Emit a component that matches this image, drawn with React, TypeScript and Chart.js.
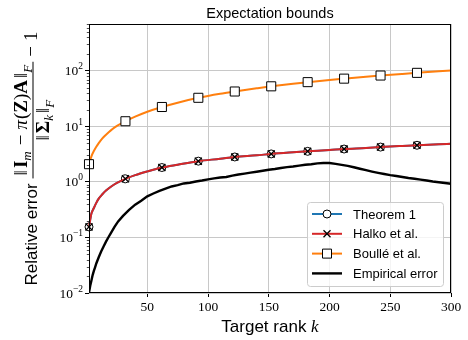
import React, { useEffect, useRef } from "react";
import { Chart, registerables } from "chart.js";

Chart.register(...registerables);

// ---------- data ----------
const kSmooth = [2, 4, 6, 8, 10, 13, 16, 20, 25, 32, 40, 50, 62, 75, 92, 110, 122, 140, 152, 170, 182, 200, 212, 230, 242, 260, 272, 290, 300];
const theorem1 = [0.155, 0.27, 0.34, 0.42, 0.5, 0.6, 0.7, 0.82, 0.96, 1.14, 1.33, 1.55, 1.82, 2.05, 2.37, 2.62, 2.82, 3.02, 3.2, 3.42, 3.56, 3.76, 3.92, 4.1, 4.25, 4.45, 4.58, 4.78, 4.88];
const halko = [0.155, 0.27, 0.34, 0.42, 0.5, 0.6, 0.7, 0.82, 0.96, 1.14, 1.33, 1.55, 1.82, 2.05, 2.37, 2.62, 2.82, 3.02, 3.2, 3.42, 3.56, 3.76, 3.92, 4.1, 4.25, 4.45, 4.58, 4.78, 4.88];
const boulle = [2.09, 2.9, 3.6, 4.3, 5.0, 6.1, 7.1, 8.5, 10.2, 12.4, 15.0, 18.4, 22.4, 26.8, 32.8, 38.8, 42.6, 48.6, 52.8, 58.8, 62.8, 68.8, 72.6, 78.6, 82.6, 88.4, 92.3, 98.2, 101.5];

const kEmp = [2, 3, 4, 5, 6, 7, 8, 10, 12, 14, 16, 18, 20, 23, 26, 30, 35, 40, 45, 50, 55, 60, 65, 70, 75, 80, 85, 90, 95, 100, 105, 110, 115, 120, 125, 130, 135, 140, 145, 150, 155, 160, 165, 170, 175, 180, 185, 190, 195, 200, 205, 210, 215, 220, 225, 230, 235, 240, 245, 250, 255, 260, 265, 270, 275, 280, 285, 290, 295, 300];
const empirical = [0.0102, 0.0135, 0.0168, 0.021, 0.025, 0.029, 0.034, 0.044, 0.056, 0.069, 0.084, 0.101, 0.12, 0.155, 0.195, 0.245, 0.315, 0.39, 0.46, 0.55, 0.62, 0.69, 0.76, 0.83, 0.875, 0.94, 0.97, 1.02, 1.06, 1.11, 1.16, 1.2, 1.23, 1.3, 1.36, 1.41, 1.47, 1.53, 1.59, 1.66, 1.71, 1.78, 1.85, 1.9, 1.97, 2.04, 2.09, 2.16, 2.2, 2.19, 2.12, 2.03, 1.95, 1.84, 1.73, 1.63, 1.54, 1.46, 1.39, 1.33, 1.28, 1.23, 1.18, 1.14, 1.1, 1.06, 1.02, 0.99, 0.96, 0.93];

const markerK = [2, 32, 62, 92, 122, 152, 182, 212, 242, 272];
const xTicks = [50, 100, 150, 200, 250, 300];
const yTicks = [0.01, 0.1, 1, 10, 100];
const yExp = ["\u22122", "\u22121", "0", "1", "2"];
const legendLabels = ["Theorem 1", "Halko et al.", "Boullé et al.", "Empirical error"];

const BLUE = "#1f77b4";
const RED = "#d62728";
const ORANGE = "#ff7f0e";
const BLACK = "#000000";
const GRID = "#c8c8c8";
const SERIF = '"Liberation Serif", "DejaVu Serif", serif';
const SANS = '"Liberation Sans", "DejaVu Sans", sans-serif';

type Seg = { t: string; f: string; dy?: number; pre?: number; post?: number };

function segWidth(ctx: CanvasRenderingContext2D, segs: Seg[]) {
  let w = 0;
  for (const s of segs) {
    ctx.font = s.f;
    w += (s.pre || 0) + ctx.measureText(s.t).width + (s.post || 0);
  }
  return w;
}
function drawSegs(ctx: CanvasRenderingContext2D, segs: Seg[], x: number, y: number) {
  for (const s of segs) {
    ctx.font = s.f;
    x += s.pre || 0;
    ctx.fillText(s.t, x, y + (s.dy || 0));
    x += ctx.measureText(s.t).width + (s.post || 0);
  }
  return x;
}

function drawMarker(ctx: CanvasRenderingContext2D, kind: string, x: number, y: number) {
  ctx.save();
  ctx.strokeStyle = "#000";
  ctx.fillStyle = "#fff";
  if (kind === "circle") {
    ctx.lineWidth = 1;
    ctx.beginPath();
    ctx.arc(x, y, 4, 0, Math.PI * 2);
    ctx.fill();
    ctx.stroke();
  } else if (kind === "x") {
    ctx.lineWidth = 1.3;
    ctx.beginPath();
    ctx.moveTo(x - 3.5, y - 3.5);
    ctx.lineTo(x + 3.5, y + 3.5);
    ctx.moveTo(x - 3.5, y + 3.5);
    ctx.lineTo(x + 3.5, y - 3.5);
    ctx.stroke();
  } else if (kind === "square") {
    ctx.lineWidth = 1;
    ctx.beginPath();
    ctx.rect(x - 4.5, y - 4.5, 9, 9);
    ctx.fill();
    ctx.stroke();
  }
  ctx.restore();
}

const decorPlugin = {
  id: "decor",
  afterDraw(chart: any) {
    const ctx: CanvasRenderingContext2D = chart.ctx;
    const { left, right, top, bottom } = chart.chartArea;
    const ys = chart.scales.y;
    ctx.save();

    // frame
    ctx.strokeStyle = "#000";
    ctx.lineWidth = 1;
    ctx.strokeRect(left + 0.5, top + 0.5, right - left - 1, bottom - top - 1);

    // y minor ticks
    ctx.lineWidth = 0.7;
    ctx.beginPath();
    for (let d = 0.01; d < 1000; d *= 10) {
      for (let m = 2; m <= 9; m++) {
        const v = m * d;
        if (v > ys.max) continue;
        const y = Math.round(ys.getPixelForValue(v)) + 0.5;
        ctx.moveTo(left - 2.2, y);
        ctx.lineTo(left, y);
      }
    }
    ctx.stroke();

    // y tick labels with superscript exponents
    ctx.fillStyle = "#000";
    ctx.textBaseline = "alphabetic";
    ctx.textAlign = "left";
    ys.ticks.forEach((t: any, i: number) => {
      const y = ys.getPixelForValue(t.value);
      const exp = yExp[i];
      ctx.font = `9.5px ${SERIF}`;
      const ew = ctx.measureText(exp).width;
      ctx.font = `13.5px ${SERIF}`;
      const bw = ctx.measureText("10").width;
      const xr = left - 6;
      ctx.fillText("10", xr - ew - bw, y + 4.5);
      ctx.font = `9.5px ${SERIF}`;
      ctx.fillText(exp, xr - ew, y - 1.5);
    });

    // title
    ctx.textAlign = "center";
    ctx.font = `14.5px ${SANS}`;
    ctx.fillText("Expectation bounds", (left + right) / 2, 18);

    // x title
    ctx.textAlign = "left";
    const xt: Seg[] = [
      { t: "Target rank ", f: `17px ${SANS}` },
      { t: "k", f: `italic 17px ${SERIF}` },
    ];
    const xtw = segWidth(ctx, xt);
    drawSegs(ctx, xt, (left + right) / 2 - xtw / 2, 332);

    // y title (rotated, with fraction)
    const F = 19;
    const FS = 13;
    const main: Seg[] = [{ t: "Relative error", f: `17px ${SANS}`, post: 5 }];
    const num: Seg[] = [
      { t: "\u2016", f: `${F}px ${SERIF}`, post: 2 },
      { t: "I", f: `bold ${F}px ${SERIF}` },
      { t: "m", f: `italic ${FS}px ${SERIF}`, dy: 4, post: 1 },
      { t: "\u2212", f: `${F}px ${SERIF}`, pre: 5, post: 5 },
      { t: "\u03c0", f: `italic ${F}px ${SERIF}`, post: 1 },
      { t: "(", f: `${F}px ${SERIF}` },
      { t: "Z", f: `bold ${F}px ${SERIF}` },
      { t: ")", f: `${F}px ${SERIF}` },
      { t: "A", f: `bold ${F}px ${SERIF}`, post: 2 },
      { t: "\u2016", f: `${F}px ${SERIF}` },
      { t: "F", f: `italic ${FS}px ${SERIF}`, dy: 5 },
    ];
    const den: Seg[] = [
      { t: "\u2016", f: `${F}px ${SERIF}`, post: 2 },
      { t: "\u03a3", f: `bold ${F}px ${SERIF}` },
      { t: "k", f: `italic ${FS}px ${SERIF}`, dy: 4, post: 2 },
      { t: "\u2016", f: `${F}px ${SERIF}` },
      { t: "F", f: `italic ${FS}px ${SERIF}`, dy: 5 },
    ];
    const tail: Seg[] = [
      { t: "\u2212", f: `${F}px ${SERIF}`, pre: 5, post: 5 },
      { t: "1", f: `${F}px ${SERIF}` },
    ];
    const wMain = segWidth(ctx, main);
    const wNum = segWidth(ctx, num);
    const wDen = segWidth(ctx, den);
    const wFrac = Math.max(wNum, wDen) + 6;
    const wTail = segWidth(ctx, tail);
    const total = wMain + wFrac + wTail;
    const BAR_X = 33;
    const cy = (top + bottom) / 2;
    ctx.translate(BAR_X, cy);
    ctx.rotate(-Math.PI / 2);
    let u = -total / 2;
    drawSegs(ctx, main, u, 4);
    u += wMain;
    drawSegs(ctx, num, u + (wFrac - wNum) / 2, -6);
    drawSegs(ctx, den, u + (wFrac - wDen) / 2, 16);
    ctx.fillRect(u, -0.5, wFrac, 1);
    u += wFrac;
    drawSegs(ctx, tail, u, 4);
    ctx.setTransform(1, 0, 0, 1, 0, 0);

    // legend
    const lx = right - 144;
    const ly = bottom - 91;
    const lw = 136;
    const lh = 84;
    ctx.beginPath();
    ctx.roundRect(lx + 0.5, ly + 0.5, lw, lh, 3);
    ctx.fillStyle = "rgba(255,255,255,0.8)";
    ctx.fill();
    ctx.strokeStyle = "#cccccc";
    ctx.lineWidth = 1;
    ctx.stroke();
    const cols = [BLUE, RED, ORANGE, BLACK];
    const marks = ["circle", "x", "square", ""];
    ctx.textBaseline = "middle";
    ctx.textAlign = "left";
    legendLabels.forEach((lab, i) => {
      const yy = ly + 12 + i * 19.8;
      ctx.strokeStyle = cols[i];
      ctx.lineWidth = i === 3 ? 2.4 : 2;
      ctx.beginPath();
      ctx.moveTo(lx + 5, yy);
      ctx.lineTo(lx + 35, yy);
      ctx.stroke();
      if (marks[i]) drawMarker(ctx, marks[i], lx + 20, yy);
      ctx.fillStyle = "#000";
      ctx.font = `13px ${SANS}`;
      ctx.fillText(lab, lx + 46, yy + 1);
    });

    ctx.restore();
  },
};

export default function App() {
  const ref = useRef<HTMLCanvasElement>(null);
  useEffect(() => {
    document.body.style.margin = "0";
    const canvas = ref.current!;
    const pts = (ks: number[], vs: number[]) => ks.map((k, i) => ({ x: k, y: vs[i] }));
    const markerR = (r: number) => (c: any) => (c.raw && markerK.includes(c.raw.x) ? r : 0);
    const chart = new Chart(canvas, {
      type: "line",
      data: {
        datasets: [
          {
            label: legendLabels[0],
            data: pts(kSmooth, theorem1),
            borderColor: BLUE,
            borderWidth: 2,
            cubicInterpolationMode: "monotone",
            pointStyle: "circle",
            pointRadius: markerR(4),
            pointBackgroundColor: "#fff",
            pointBorderColor: "#000",
            pointBorderWidth: 1,
            clip: false,
            order: 2,
          },
          {
            label: legendLabels[1],
            data: pts(kSmooth, halko),
            borderColor: RED,
            borderWidth: 2,
            cubicInterpolationMode: "monotone",
            pointStyle: "crossRot",
            pointRadius: markerR(5),
            pointBackgroundColor: "#000",
            pointBorderColor: "#000",
            pointBorderWidth: 1.3,
            clip: false,
            order: 1,
          },
          {
            label: legendLabels[2],
            data: pts(kSmooth, boulle),
            borderColor: ORANGE,
            borderWidth: 2,
            cubicInterpolationMode: "monotone",
            pointStyle: "rect",
            pointRadius: markerR(6.4),
            pointBackgroundColor: "#fff",
            pointBorderColor: "#000",
            pointBorderWidth: 1,
            clip: false,
            order: 3,
          },
          {
            label: legendLabels[3],
            data: pts(kEmp, empirical),
            borderColor: BLACK,
            borderWidth: 2.4,
            pointRadius: 0,
            order: 0,
          },
        ],
      } as any,
      options: {
        animation: false,
        responsive: false,
        devicePixelRatio: 1,
        events: [],
        layout: { padding: { top: 24, right: 17, left: 0, bottom: 0 } },
        plugins: {
          legend: { display: false },
          tooltip: { enabled: false },
          title: { display: false },
        },
        scales: {
          x: {
            type: "linear",
            min: 2,
            max: 300,
            afterBuildTicks: (s: any) => {
              s.ticks = xTicks.map((v) => ({ value: v }));
            },
            afterFit: (s: any) => {
              s.height = 47;
            },
            grid: { color: GRID, lineWidth: 1, tickColor: "#000", tickLength: 4, tickWidth: 1 },
            border: { display: false },
            ticks: {
              font: { family: SERIF, size: 13.5 },
              color: "#000",
              padding: 2,
              maxRotation: 0,
              autoSkip: false,
            },
          },
          y: {
            type: "logarithmic",
            min: 0.01,
            max: 700,
            afterBuildTicks: (s: any) => {
              s.ticks = yTicks.map((v) => ({ value: v }));
            },
            afterFit: (s: any) => {
              s.width = 89;
            },
            grid: { color: GRID, lineWidth: 1, tickColor: "#000", tickLength: 4, tickWidth: 1 },
            border: { display: false },
            ticks: { display: false },
          },
        },
      } as any,
      plugins: [decorPlugin],
    });
    return () => chart.destroy();
  }, []);
  return (
    <div style={{ position: "fixed", left: 0, top: 0, width: 468, height: 340, background: "#fff" }}>
      <canvas ref={ref} width={468} height={340} />
    </div>
  );
}
